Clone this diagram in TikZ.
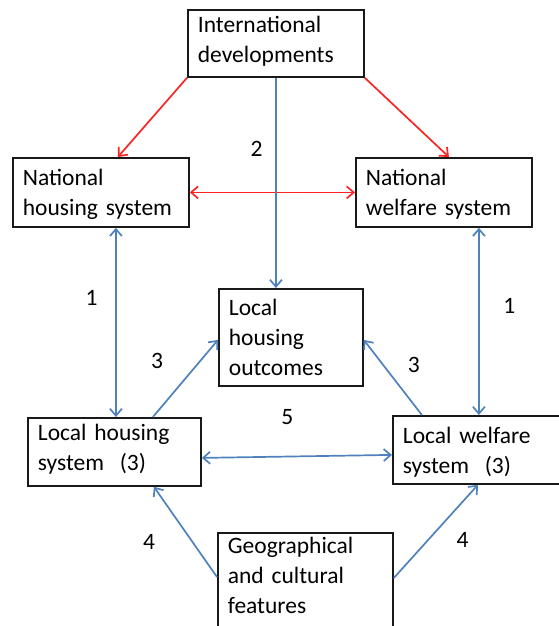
\documentclass[tikz,border=0pt]{standalone}
\usepackage{fontspec}
\setmainfont{Carlito}
\usetikzlibrary{positioning,arrows.meta}
\definecolor{linkred}{RGB}{252,35,35}
\definecolor{linkblue}{RGB}{79,129,189}

\begin{document}
\begin{tikzpicture}[x=1pt, y=-1pt,
    >={Straight Barb[length=7pt,width=12pt]},
    font=\fontsize{23.5}{30}\selectfont,
    box/.style={draw=black!90, line width=1.8pt, anchor=north west,
        align=left, inner xsep=10pt, inner ysep=0pt},
    redlink/.style={draw=linkred, line width=1.7pt},
    bluelink/.style={draw=linkblue, line width=1.7pt},
    lbl/.style={text=black, inner sep=0pt}]
    \useasboundingbox (0,0) rectangle (559,626);
    \node[box, text width=156pt, text height=23pt, text depth=44pt] (intl) at (187,9) {International\\developments};
    \node[box, text width=156pt, text height=28pt, text depth=41pt] (nhs) at (12,157) {National\\housing system};
    \node[box, text width=156pt, text height=28pt, text depth=41pt] (nws) at (355,157) {National\\welfare system};
    \node[box, text width=124pt, text height=27pt, text depth=70pt] (lho) at (218,288) {Local\\housing\\outcomes};
    \node[box, text width=153pt, text height=23pt, text depth=45pt] (lhs) at (27,417) {Local housing\\system\ \ (3)};
    \node[box, text width=150pt, text height=28pt, text depth=40pt] (lws) at (392,415) {Local welfare\\system\ \ (3)};
    \node[box, text width=155pt, text height=21pt, text depth=97pt] (geo) at (217,532) {Geographical\\and cultural\\features};
    % anchor points for the connectors
    \coordinate (nhsdn) at ([xshift=15pt]nhs.south);
    \coordinate (nwsdn) at ([xshift=35pt]nws.south);
    \coordinate (lhsup) at ([xshift=38.5pt]lhs.north);
    \coordinate (lwsup) at ([xshift=-56pt]lws.north);
    \coordinate (geoleft) at ([yshift=-45pt]geo.north west);
    \coordinate (georight) at ([yshift=-46pt]geo.north east);
    \path[redlink]
        (intl.south west) edge[->] ([xshift=17pt]nhs.north)
        (intl.south east) edge[->] ([xshift=5pt]nws.north)
        (nhs.east) edge[<->] (nws.west);
    \path[bluelink]
        (intl.south) edge[->] node[lbl, pos=.34, left=12.5pt] {2} (intl.south |- lho.north)
        (nhsdn) edge[<->] node[lbl, pos=.37, left=17.5pt] {1} (nhsdn |- lhs.north)
        (nwsdn) edge[<->] node[lbl, pos=.42, right=23.5pt] {1} (nwsdn |- lws.north)
        (lhsup) edge[->] node[lbl, pos=.73, left=36.5pt] {3} ([yshift=-2.5pt]lho.west)
        (lwsup) edge[->] node[lbl, pos=.66, right=23.5pt] {3} ([yshift=-2.5pt]lho.east)
        ([yshift=-6pt]lhs.east) edge[<->] node[lbl, pos=.45, above=31pt] {5} ([yshift=-5pt]lws.west)
        (geoleft) edge[->] node[lbl, pos=.39, left=36.5pt] {4} ([xshift=39.5pt]lhs.south)
        (georight) edge[->] node[lbl, pos=.41, right=27.5pt] {4} (lws.south);
\end{tikzpicture}
\end{document}
